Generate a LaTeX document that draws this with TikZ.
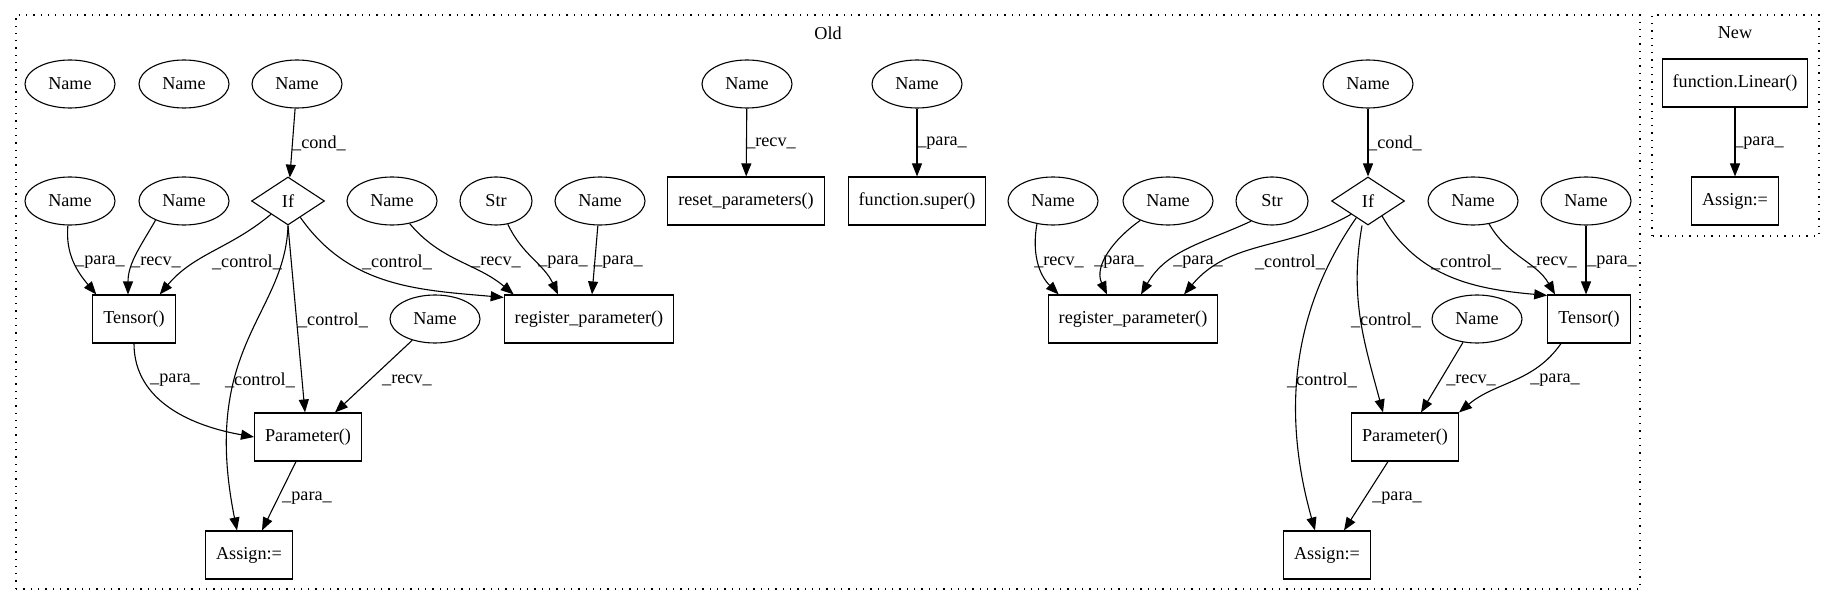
\documentclass[tikz,border=0pt]{standalone}
\usepackage{fontspec}
\setmainfont{Liberation Serif}
\usetikzlibrary{arrows.meta,shapes}

\begin{document}
\begin{tikzpicture}[x=1pt,y=1pt,line width=1.1pt,
  font=\fontsize{18.2}{21}\selectfont,
  nm/.style={ellipse,draw,minimum width=90pt,minimum height=48pt,inner sep=0pt},
  strnode/.style={nm,minimum width=72pt},
  ifnode/.style={diamond,draw,minimum width=73pt,minimum height=48pt,inner sep=0pt},
  call/.style={rectangle,draw,minimum width=70pt,minimum height=48pt,inner xsep=10.5pt},
  flow/.style={-{Triangle[length=13pt,width=10pt]}},
  elbl/.style={inner sep=0pt},
  cluster/.style={draw,dash pattern=on 1.3pt off 6pt}]
  \useasboundingbox (0,0) rectangle (1835,606);

  \draw[cluster] (16,17) rectangle (1640,591);   %Old cluster
  \node (old) at (828,573) {Old};
  \draw[cluster] (1652,370) rectangle (1819,591); %New cluster
  \node (new) at (1735,573) {New};

  % left part of Old
  \node[nm] (nA1) at (70,522) {Name};
  \node[nm] (nA2) at (184,522) {Name};
  \node[nm] (nA3) at (297,522) {Name};
  \node[nm] (nA4) at (70,405) {Name};
  \node[nm] (nA5) at (184,405) {Name};
  \node[ifnode] (ifA) at (288,405) {If};
  \node[nm] (nA6) at (392,405) {Name};
  \node[strnode] (strA) at (496,405) {Str};
  \node[nm] (nA7) at (600,405) {Name};
  \node[call] (tenA) at (134,287) {Tensor()};
  \node[nm] (nA8) at (435,287) {Name};
  \node[call] (regA) at (589,287) {register\_parameter()};
  \node[call] (parA) at (308,169) {Parameter()};
  \node[call] (asgA) at (249,51) {Assign:=};

  % middle of Old
  \node[nm] (nM1) at (747,522) {Name};
  \node[call] (resetM) at (746,405) {reset\_parameters()};
  \node[nm] (nM2) at (917,522) {Name};
  \node[call] (superM) at (917,405) {function.super()};

  % right part of Old
  \node[nm] (nB1) at (1368,522) {Name};
  \node[nm] (nB2) at (1053,405) {Name};
  \node[nm] (nB3) at (1168,405) {Name};
  \node[strnode] (strB) at (1272,405) {Str};
  \node[ifnode] (ifB) at (1368,405) {If};
  \node[nm] (nB4) at (1473,405) {Name};
  \node[nm] (nB5) at (1586,405) {Name};
  \node[call] (regB) at (1133,287) {register\_parameter()};
  \node[nm] (nB6) at (1477,287) {Name};
  \node[call] (tenB) at (1589,287) {Tensor()};
  \node[call] (parB) at (1405,169) {Parameter()};
  \node[call] (asgB) at (1327,51) {Assign:=};

  % New
  \node[call] (linN) at (1735,523) {function.Linear()};
  \node[call] (asgN) at (1735,405) {Assign:=};

  % edges, left
  \draw[flow] (nA3) -- (ifA);
  \draw[flow] (nA4.-95) to[out=-95,in=130] ([xshift=4pt]tenA.north west);
  \draw[flow] (nA5.-146) to[out=-120,in=90] ([xshift=-6pt]tenA.north);
  \draw[flow] (ifA.-142) to[out=-140,in=50] ([xshift=-16pt]tenA.north east);
  \draw[flow] (ifA.-53) to[out=-55,in=175] ([yshift=-3pt]regA.north west);
  \draw[flow] (nA6.-52) to[out=-50,in=140] ([xshift=10pt]regA.north west);
  \draw[flow] (strA.-63) to[out=-65,in=115] ([xshift=-31pt]regA.north);
  \draw[flow] (nA7.-95) -- ([xshift=3pt]regA.north);
  \draw[flow] (ifA.south) -- ([xshift=-3pt]parA.north);
  \draw[flow] (ifA.south) .. controls (285,290) and (200,260) .. ([xshift=-12pt]asgA.north);
  \draw[flow] (tenA.south) to[out=-90,in=170] (parA.west);
  \draw[flow] (nA8) -- ([xshift=27pt]parA.north);
  \draw[flow] ([xshift=-12pt]parA.south) -- ([xshift=13pt]asgA.north);

  % edges, middle
  \draw[flow] (nM1) -- (resetM);
  \draw[flow] (nM2) -- (superM);

  % edges, right
  \draw[flow] (nB1) -- (ifB);
  \draw[flow] (nB2.-125) to[out=-100,in=135] ([xshift=11pt]regB.north west);
  \draw[flow] (nB3.-145) to[out=-145,in=115] ([xshift=-26pt]regB.north);
  \draw[flow] (strB.-136) to[out=-155,in=60] ([xshift=8pt]regB.north);
  \draw[flow] (ifB.-142) to[out=-150,in=50] ([xshift=51pt]regB.north);
  \draw[flow] (ifB.-47) to[out=-60,in=175] ([yshift=-1pt]tenB.north west);
  \draw[flow] (nB4.-55) to[out=-60,in=120] ([xshift=-34pt]tenB.north);
  \draw[flow] (nB5) -- (nB5 |- tenB.north);
  \draw[flow] ([xshift=-6pt]ifB.south) to[out=-100,in=105] ([xshift=-22pt]parB.north);
  \draw[flow] (ifB.-125) .. controls (1295,300) and (1280,200) .. ([xshift=-12pt]asgB.north);
  \draw[flow] (nB6) -- ([xshift=16pt]parB.north);
  \draw[flow] ([xshift=-28pt]tenB.south) to[out=-125,in=40] (parB.north east);
  \draw[flow] ([xshift=-17pt]parB.south) -- ([xshift=17pt]asgB.north);

  % edge, New
  \draw[flow] (linN) -- (asgN);

  % edge labels
  \node[elbl] (lA1) at (319,463) {\_cond\_};
  \node[elbl] (lA2) at (100,344) {\_para\_};
  \node[elbl] (lA3) at (156,344) {\_recv\_};
  \node[elbl] (lA4) at (247,344) {\_control\_};
  \node[elbl] (lA5) at (397,344) {\_control\_};
  \node[elbl] (lA6) at (496,344) {\_recv\_};
  \node[elbl] (lA7) at (563,344) {\_para\_};
  \node[elbl] (lA8) at (618,344) {\_para\_};
  \node[elbl] (lA9) at (333,286) {\_control\_};
  \node[elbl] (lA10) at (175,226) {\_para\_};
  \node[elbl] (lA11) at (260,226) {\_control\_};
  \node[elbl] (lA12) at (407,226) {\_recv\_};
  \node[elbl] (lA13) at (307,108) {\_para\_};
  \node[elbl] (lM1) at (771,463) {\_recv\_};
  \node[elbl] (lM2) at (942,463) {\_para\_};
  \node[elbl] (lB1) at (1395,463) {\_cond\_};
  \node[elbl] (lB2) at (1059,344) {\_recv\_};
  \node[elbl] (lB3) at (1119,344) {\_para\_};
  \node[elbl] (lB4) at (1198,344) {\_para\_};
  \node[elbl] (lB5) at (1290,344) {\_control\_};
  \node[elbl] (lB6) at (1466,344) {\_control\_};
  \node[elbl] (lB7) at (1552,344) {\_recv\_};
  \node[elbl] (lB8) at (1612,344) {\_para\_};
  \node[elbl] (lB9) at (1386,286) {\_control\_};
  \node[elbl] (lB10) at (1322,226) {\_control\_};
  \node[elbl] (lB11) at (1471,226) {\_recv\_};
  \node[elbl] (lB12) at (1555,226) {\_para\_};
  \node[elbl] (lB13) at (1397,108) {\_para\_};
  \node[elbl] (lN1) at (1759,463) {\_para\_};
\end{tikzpicture}
\end{document}
